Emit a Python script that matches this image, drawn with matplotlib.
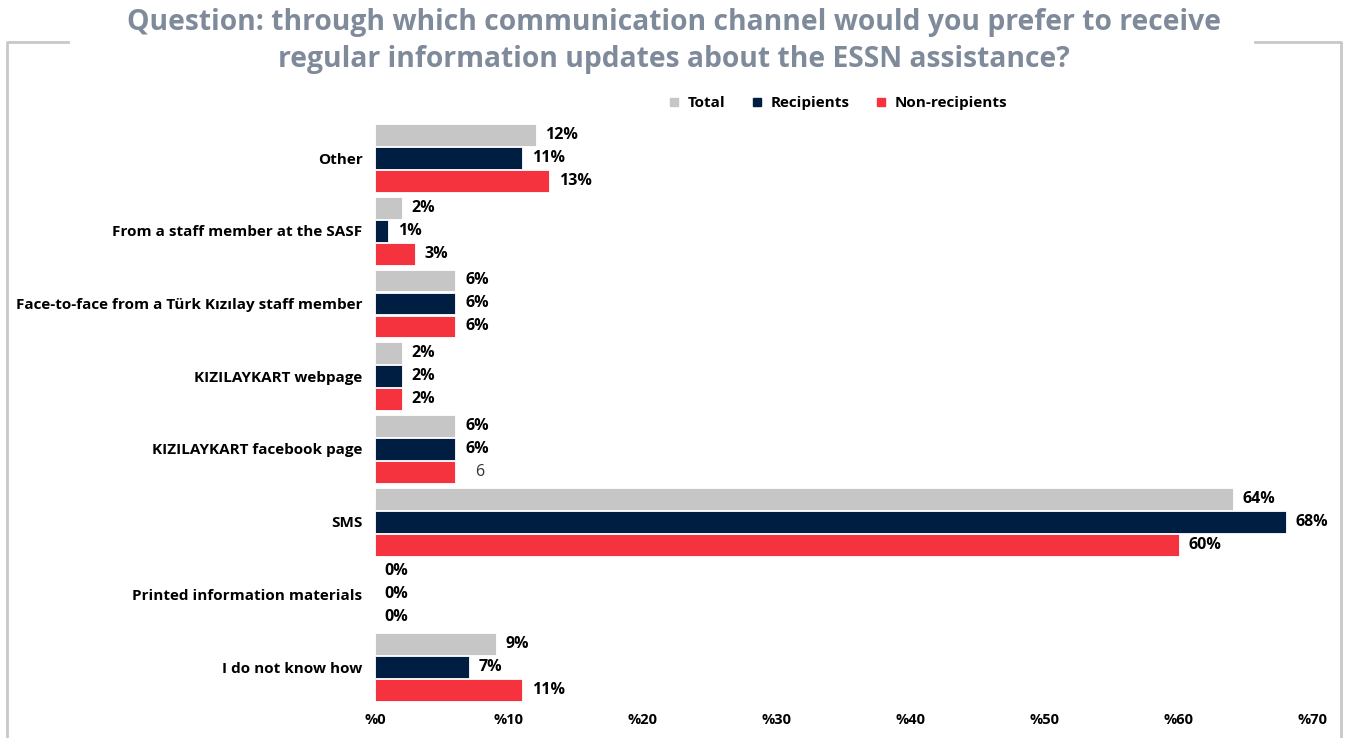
import matplotlib.pyplot as plt
from matplotlib.lines import Line2D

categories = ["Other", "From a staff member at the SASF",
              "Face-to-face from a Türk Kızılay staff member",
              "KIZILAYKART webpage", "KIZILAYKART facebook page", "SMS",
              "Printed information materials", "I do not know how"]
total = [12, 2, 6, 2, 6, 64, 0, 9]
recipients = [11, 1, 6, 2, 6, 68, 0, 7]
non_recipients = [13, 3, 6, 2, 6, 60, 0, 11]
total_labels = ["12%", "2%", "6%", "2%", "6%", "64%", "0%", "9%"]
recipient_labels = ["11%", "1%", "6%", "2%", "6%", "68%", "0%", "7%"]
non_recipient_labels = ["13%", "3%", "6%", "2%", "6", "60%", "0%", "11%"]
series_names = ["Total", "Recipients", "Non-recipients"]
xticks = [0, 10, 20, 30, 40, 50, 60, 70]

colors = ["#C6C6C6", "#001E42", "#F5333F"]

plt.rcParams['font.family'] = ['Open Sans', 'DejaVu Sans']

W, H = 1348, 738
fig = plt.figure(figsize=(W / 100, H / 100), dpi=100)
ax = fig.add_axes([375 / W, 1 - 705 / H, (1313 - 375) / W, (705 - 122) / H])

step = 0.316
height = 0.30
series = [(total, total_labels), (recipients, recipient_labels),
          (non_recipients, non_recipient_labels)]
y = list(range(len(categories)))
for k, (vals, labs) in enumerate(series):
    pos = [i + (k - 1) * step for i in y]
    ax.barh(pos, vals, height=height, color=colors[k], edgecolor="white",
            linewidth=0.6, label=series_names[k])
    for p, v, t in zip(pos, vals, labs):
        bold = "%" in t
        ax.annotate(t, (v, p), xytext=(7 if bold else 14, 0),
                    textcoords="offset points", va="center", ha="left",
                    fontsize=11.5, fontweight="bold" if bold else "normal",
                    color="black" if bold else "#333333")

ax.set_xlim(0, 70)
ax.set_ylim(7.52, -0.495)
ax.set_yticks(y)
ax.set_yticklabels(categories, fontsize=11, fontweight="bold")
ax.set_xticks(xticks)
ax.set_xticklabels(["%" + str(t) for t in xticks], fontsize=10.5,
                   fontweight="bold")
ax.tick_params(length=0, axis="y", pad=9)
ax.tick_params(length=0, axis="x", pad=6)
for s in ax.spines.values():
    s.set_visible(False)

handles = [Line2D([], [], marker="s", linestyle="", color=c, markersize=6)
           for c in colors]
fig.legend(handles, series_names, loc="center", ncol=3, frameon=False,
           bbox_to_anchor=(838 / W, 1 - 103 / H), handlelength=0.7,
           handletextpad=0.5, columnspacing=1.75,
           prop={"weight": "bold", "size": 11})

fig.text(0.5, 1 - 41 / H,
         "Question: through which communication channel would you prefer to receive\n"
         "regular information updates about the ESSN assistance?",
         ha="center", va="center", fontsize=20.3, fontweight="bold",
         color="#7F8A9B", linespacing=1.4)

frame = "#C8C8C8"
fig.add_artist(Line2D([7 / W, 7 / W, 68 / W], [0, 1 - 42 / H, 1 - 42 / H],
                      color=frame, lw=2))
fig.add_artist(Line2D([1255 / W, 1341 / W, 1341 / W], [1 - 42 / H, 1 - 42 / H, 0],
                      color=frame, lw=2))

fig.savefig("out.png", dpi=100)
